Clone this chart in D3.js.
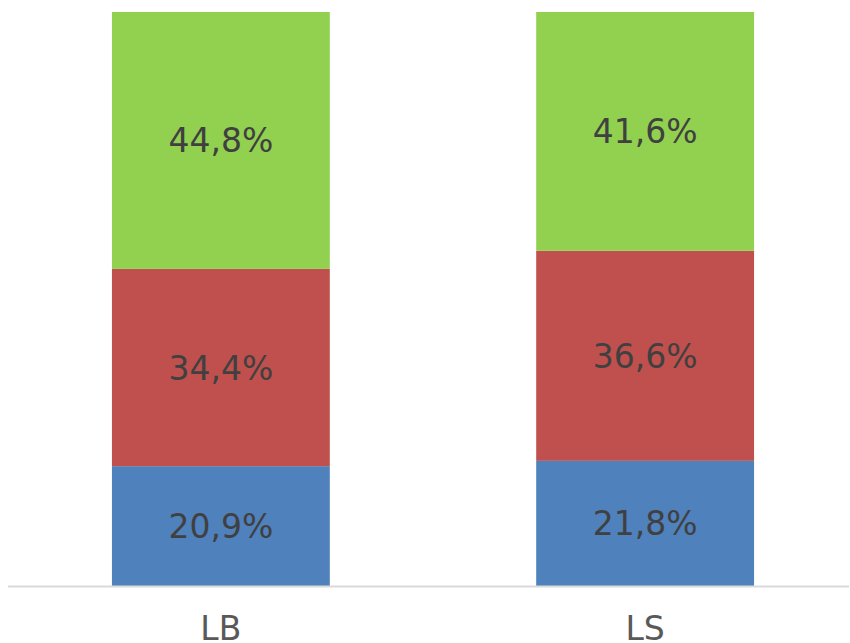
<!DOCTYPE html>
<html>
<head>
<meta charset="utf-8">
<script src="https://cdn.jsdelivr.net/npm/d3@7"></script>
<style>
  html, body { margin: 0; padding: 0; background: #fff; }
  svg { display: block; font-family: "DejaVu Sans", Verdana, sans-serif; }
</style>
</head>
<body>
<svg id="chart" width="850" height="643"></svg>
<script>
// Categories and the three stacked shares (percent) for each
const categories = ["LB", "LS"];
const seriesNames = ["s1", "s2", "s3"];
const s1Values = [20.9, 21.8];
const s2Values = [34.4, 36.6];
const s3Values = [44.8, 41.6];
const seriesColors = ["#4F81BD", "#C0504D", "#92D050"];

const rows = categories.map((c, i) => ({
  cat: c, s1: s1Values[i], s2: s2Values[i], s3: s3Values[i]
}));

const svg = d3.select("#chart");
const baseY = 586, topY = 12;

const x = d3.scaleBand()
  .domain(categories)
  .range([8, 858])
  .paddingInner(0.4865)
  .paddingOuter(0.245);

const y = d3.scaleLinear().domain([0, 1]).range([baseY, topY]);

const stack = d3.stack().keys(seriesNames).offset(d3.stackOffsetExpand);
const layers = stack(rows);

const fmt = v => v.toFixed(1).replace(".", ",") + "%";

const g = svg.append("g");
layers.forEach((layer, li) => {
  const lg = g.append("g").attr("fill", seriesColors[li]);
  lg.selectAll("rect")
    .data(layer)
    .join("rect")
    .attr("x", d => x(d.data.cat))
    .attr("width", x.bandwidth())
    .attr("y", d => y(d[1]))
    .attr("height", d => y(d[0]) - y(d[1]));

  g.append("g").selectAll("text")
    .data(layer)
    .join("text")
    .attr("x", d => x(d.data.cat) + x.bandwidth() / 2)
    .attr("y", d => (y(d[0]) + y(d[1])) / 2 + 12)
    .attr("text-anchor", "middle")
    .attr("font-size", 33)
    .attr("fill", "#404040")
    .text(d => fmt(d.data[layer.key]));
});

// Baseline
svg.append("line")
  .attr("x1", 8).attr("x2", 849)
  .attr("y1", baseY + 0.5).attr("y2", baseY + 0.5)
  .attr("stroke", "#D9D9D9")
  .attr("stroke-width", 2);

// Category labels
const xAxis = d3.axisBottom(x).tickSize(0).tickPadding(0);
const ax = svg.append("g").attr("transform", `translate(0,${baseY})`).call(xAxis);
ax.select(".domain").remove();
ax.selectAll("text")
  .attr("font-size", 33)
  .attr("font-family", "DejaVu Sans, Verdana, sans-serif")
  .attr("fill", "#595959")
  .attr("dy", null)
  .attr("y", 54);
</script>
</body>
</html>
